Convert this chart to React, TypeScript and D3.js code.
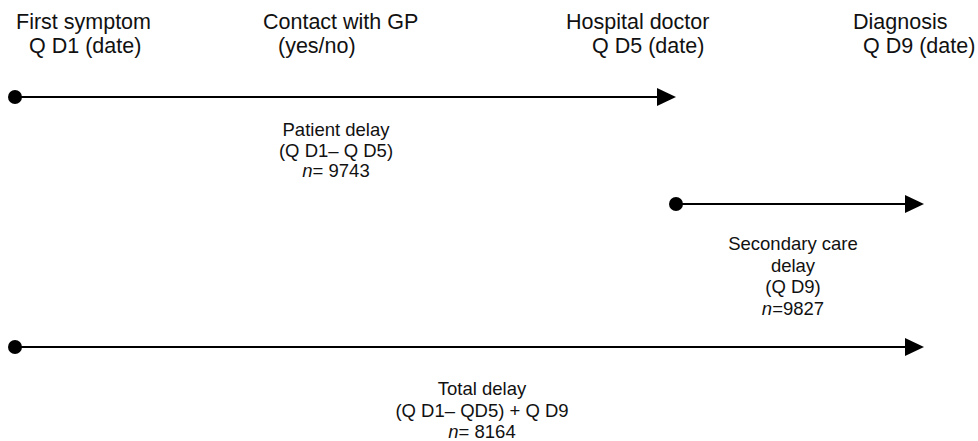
import * as d3 from 'd3'
import { useEffect, useRef } from 'react'

// stages of the pathway and their header text
const stages = ['symptom', 'gp', 'hospital', 'diagnosis']
const stageTitles = ['First symptom', 'Contact with GP', 'Hospital doctor', 'Diagnosis']
const stageQuestions = ['Q D1 (date)', '(yes/no)', 'Q D5 (date)', 'Q D9 (date)']

// the three delay intervals
const delayFrom = ['symptom', 'hospital', 'symptom']
const delayTo = ['hospital', 'diagnosis', 'diagnosis']
const delayLabels = [
  ['Patient delay', '(Q D1– Q D5)'],
  ['Secondary care', 'delay', '(Q D9)'],
  ['Total delay', '(Q D1– QD5) + Q D9'],
]
const delayN = ['= 9743', '=9827', '= 8164']

// layout
const W = 978, H = 441
const stageX = d3.scaleOrdinal<string, number>().domain(stages).range([15, 300, 676, 924])
const titleX = [16, 263, 566, 853]
const questionX = [29, 278, 592, 863]
const rowY = [97, 204, 347]
const labelX = [336, 793, 482]
const labelTop = [136, 250, 395]
const lineH = [20.5, 21.5, 21.5]

function drawDiagram(svgEl: SVGSVGElement) {
  const svg = d3.select(svgEl)
  svg.selectAll('*').remove()
  const font = "'Liberation Sans', Arial, Helvetica, sans-serif"

  // headers
  const head = svg.append('g').attr('font-family', font).attr('font-size', 21.5).attr('fill', '#111')
  stages.forEach((s, i) => {
    head.append('text').attr('x', titleX[i]).attr('y', 29).text(stageTitles[i])
    head.append('text').attr('x', questionX[i]).attr('y', 53).text(stageQuestions[i])
  })

  // arrows
  delayFrom.forEach((from, i) => {
    const x0 = stageX(from)
    const x1 = stageX(delayTo[i])
    const y = rowY[i]
    const g = svg.append('g')
    g.append('line')
      .attr('x1', x0).attr('y1', y).attr('x2', x1 - 16).attr('y2', y)
      .attr('stroke', '#000').attr('stroke-width', 2)
    g.append('circle').attr('cx', x0).attr('cy', y).attr('r', 7).attr('fill', '#000')
    g.append('path')
      .attr('d', d3.line()([[x1 - 19, y - 9], [x1, y], [x1 - 19, y + 9]]) + 'Z')
      .attr('fill', '#000')

    // label under arrow
    const t = g.append('text')
      .attr('font-family', font).attr('font-size', 18.5).attr('fill', '#111')
      .attr('text-anchor', 'middle')
    const lines = delayLabels[i]
    lines.forEach((ln, k) => {
      t.append('tspan').attr('x', labelX[i]).attr('y', labelTop[i] + k * lineH[i]).text(ln)
    })
    const nl = t.append('tspan').attr('x', labelX[i]).attr('y', labelTop[i] + lines.length * lineH[i])
    nl.append('tspan').attr('font-style', 'italic').text('n')
    nl.append('tspan').text(delayN[i])
  })
}

function App() {
  const ref = useRef<SVGSVGElement>(null)
  useEffect(() => {
    if (ref.current) drawDiagram(ref.current)
  })
  return (
    <svg ref={ref} width={W} height={H}
      style={{ position: 'absolute', left: 0, top: 0, background: '#fff' }} />
  )
}

export default App
